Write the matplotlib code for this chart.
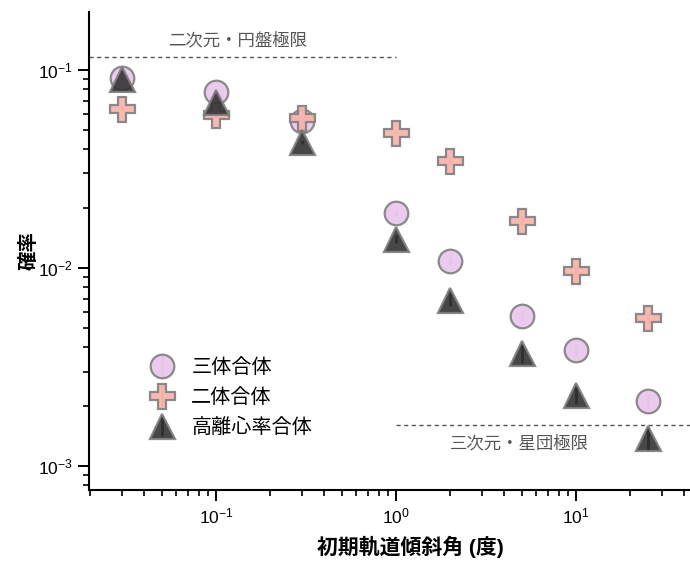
import matplotlib
matplotlib.use("Agg")
import matplotlib.pyplot as plt
from matplotlib.ticker import LogLocator, NullFormatter

plt.rcParams["font.family"] = ["Liberation Sans", "Noto Sans CJK JP"]
plt.rcParams["mathtext.fontset"] = "custom"
plt.rcParams["mathtext.rm"] = "Liberation Sans"
plt.rcParams["mathtext.it"] = "Liberation Sans"
plt.rcParams["mathtext.bf"] = "Liberation Sans:bold"

# initial inclination (deg)
incl = [0.03, 0.1, 0.3, 1, 2, 5, 10, 25]

# merger probabilities and their uncertainties
p_triple = [0.091, 0.077, 0.055, 0.019, 0.0108, 0.0057, 0.00386, 0.00213]
e_triple = [0.0010, 0.0009, 0.0010, 0.0006, 0.0005, 0.00033, 0.00027, 0.00019]

p_binary = [0.0636, 0.0593, 0.0573, 0.0481, 0.0347, 0.0173, 0.0096, 0.0056]
e_binary = [0.0011, 0.0010, 0.0010, 0.0008, 0.0012, 0.0009, 0.0006, 0.0003]

p_ecc = [0.090, 0.069, 0.0433, 0.014, 0.0069, 0.0037, 0.00229, 0.00138]
e_ecc = [0.0010, 0.0016, 0.0010, 0.00065, 0.00048, 0.00037, 0.00023, 0.00019]

labels = ["三体合体", "二体合体", "高離心率合体"]

# limiting cases
disk_limit = 0.116
cluster_limit = 0.00161
limit_labels = ["二次元・円盤極限", "三次元・星団極限"]

fig = plt.figure(figsize=(6.9, 5.61), dpi=100)
ax = fig.add_axes([0.129, 0.1266, 0.871, 0.852])
ax.set_xscale("log")
ax.set_yscale("log")
ax.set_xlim(0.0197, 43)
ax.set_ylim(7.57e-4, 0.196)

styles = [
    (p_triple, e_triple, "o", "#e9c6ec", "#d8a2de", 17),
    (p_binary, e_binary, "P", "#f8b2aa", "#ee8a80", 18),
    (p_ecc, e_ecc, "^", "#333333", "#000000", 18),
]
for (vals, errs, mk, fc, ec_bar, ms), lab in zip(styles, labels):
    ax.errorbar(incl, vals, yerr=errs, fmt=mk, ms=ms, mfc=fc, mec="#7f7f7f",
                mew=1.6, ecolor=ec_bar, elinewidth=2.2, capsize=0,
                alpha=0.9, label=lab)

ax.plot([0.0197, 1], [disk_limit, disk_limit], ls=(0, (3, 2.5)), color="#555555", lw=1)
ax.plot([1, 43], [cluster_limit, cluster_limit], ls=(0, (3, 2.5)), color="#555555", lw=1)
ax.text(0.132, 0.142, limit_labels[0], ha="center", va="center",
        fontsize=12.5, color="#555555")
ax.text(4.82, 0.0013, limit_labels[1], ha="center", va="center",
        fontsize=12.5, color="#555555")

for side in ["top", "right"]:
    ax.spines[side].set_visible(False)
for side in ["left", "bottom"]:
    ax.spines[side].set_linewidth(1.5)

ax.xaxis.set_major_locator(LogLocator(base=10, numticks=10))
ax.xaxis.set_minor_locator(LogLocator(base=10, subs=range(2, 10), numticks=20))
ax.xaxis.set_minor_formatter(NullFormatter())
ax.yaxis.set_minor_formatter(NullFormatter())
ax.tick_params(which="major", length=8, width=1.4, labelsize=12.5, pad=4)
ax.tick_params(which="minor", length=4.5, width=1.2)

ax.set_xlabel("初期軌道傾斜角 (度)", fontsize=15, fontweight="bold")
ax.set_ylabel("確率", fontsize=14, fontweight="bold")
ax.xaxis.set_label_coords(0.535, -0.119)
ax.xaxis.label.set_va("center")
ax.yaxis.set_label_coords(-0.1, 0.5)
ax.yaxis.label.set_va("center")

ax.legend(loc="upper left", bbox_to_anchor=(0.078, 0.306), frameon=False,
          fontsize=14.5, handletextpad=0.85, labelspacing=0.55,
          handlelength=1.2, borderpad=0.2)

fig.savefig("out.png", dpi=100)
